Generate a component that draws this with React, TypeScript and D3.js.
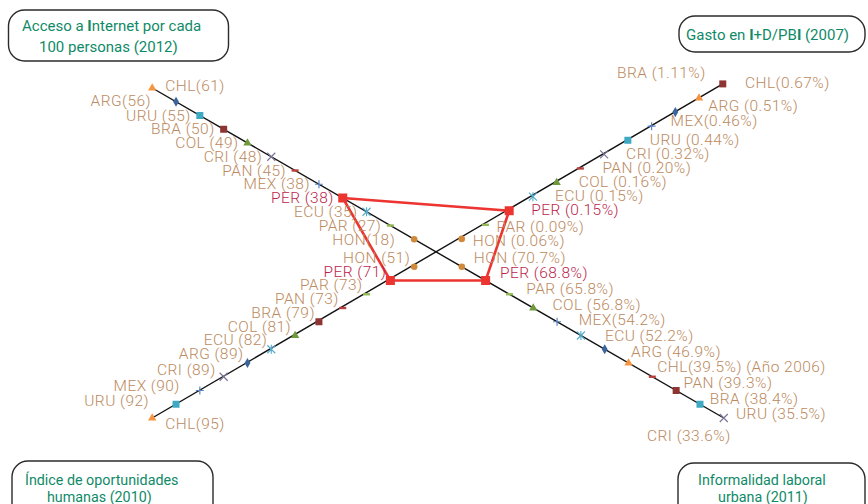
import React from "react";
import * as d3 from "d3";

// ---------- data (rank order, from axis end toward centre) ----------
const internetCountries = ["CHL", "ARG", "URU", "BRA", "COL", "CRI", "PAN", "MEX", "PER", "ECU", "PAR", "HON"];
const internetValues = [61, 56, 55, 50, 49, 48, 45, 38, 38, 35, 27, 18];
const internetLabels = ["CHL(61)", "ARG(56)", "URU (55)", "BRA (50)", "COL (49)", "CRI (48)", "PAN (45)", "MEX (38)", "PER (38)", "ECU (35)", "PAR (27)", "HON(18)"];

const iohCountries = ["CHL", "URU", "MEX", "CRI", "ARG", "ECU", "COL", "BRA", "PAN", "PAR", "PER", "HON"];
const iohValues = [95, 92, 90, 89, 89, 82, 81, 79, 73, 73, 71, 51];
const iohLabels = ["CHL(95)", "URU (92)", "MEX (90)", "CRI (89)", "ARG (89)", "ECU (82)", "COL (81)", "BRA (79)", "PAN (73)", "PAR (73)", "PER (71)", "HON (51)"];

const idCountries = ["BRA", "CHL", "ARG", "MEX", "URU", "CRI", "PAN", "COL", "ECU", "PER", "PAR", "HON"];
const idValues = [1.11, 0.67, 0.51, 0.46, 0.44, 0.32, 0.2, 0.16, 0.15, 0.15, 0.09, 0.06];
const idLabels = ["BRA (1.11%)", "CHL(0.67%)", "ARG (0.51%)", "MEX(0.46%)", "URU (0.44%)", "CRI (0.32%)", "PAN (0.20%)", "COL (0.16%)", "ECU (0.15%)", "PER (0.15%)", "PAR (0.09%)", "HON (0.06%)"];

const informalCountries = ["CRI", "URU", "BRA", "PAN", "CHL", "ARG", "ECU", "MEX", "COL", "PAR", "PER", "HON"];
const informalValues = [33.6, 35.5, 38.4, 39.3, 39.5, 46.9, 52.2, 54.2, 56.8, 65.8, 68.8, 70.7];
const informalLabels = ["CRI (33.6%)", "URU (35.5%)", "BRA (38.4%)", "PAN (39.3%)", "CHL(39.5%) (Año 2006)", "ARG (46.9%)", "ECU (52.2%)", "MEX(54.2%)", "COL (56.8%)", "PAR (65.8%)", "PER (68.8%)", "HON (70.7%)"];

// ---------- styles ----------
const W = 868;
const H = 504;
const CX = 438;
const CY = 253;
const LABEL = "#BC8A60";
const PERC = "#BC1F4B";
const TITLE = "#0F8A68";
const RED = "#EC3431";
const FONT = "Roboto, 'Noto Sans', sans-serif";

type Shape = { kind: string; color: string };
const markers: Record<string, Shape> = {
  ARG: { kind: "diamond", color: "#3A659C" },
  BRA: { kind: "square", color: "#8E3533" },
  CHL: { kind: "triangle", color: "#F7943F" },
  COL: { kind: "triangle", color: "#6F9A3C" },
  CRI: { kind: "x", color: "#7D7399" },
  ECU: { kind: "asterisk", color: "#54AACB" },
  HON: { kind: "circle", color: "#D08A3C" },
  MEX: { kind: "plus", color: "#5A86C2" },
  PAN: { kind: "dash", color: "#B8403C" },
  PAR: { kind: "dash", color: "#93BB55" },
  PER: { kind: "bigsquare", color: RED },
  URU: { kind: "square", color: "#3FA9C4" },
};

function Marker({ x, y, c }: { x: number; y: number; c: string }) {
  const m = markers[c];
  const col = m.color;
  switch (m.kind) {
    case "square":
      return <rect x={x - 3.5} y={y - 3.5} width={7} height={7} fill={col} />;
    case "bigsquare":
      return <rect x={x - 4.5} y={y - 4.5} width={9} height={9} fill={col} />;
    case "diamond":
      return <path d={d3.symbol(d3.symbolDiamond, 30)()!} transform={`translate(${x},${y})`} fill={col} />;
    case "triangle":
      return <path d={d3.symbol(d3.symbolTriangle, 30)()!} transform={`translate(${x},${y})`} fill={col} />;
    case "circle":
      return <circle cx={x} cy={y} r={3.3} fill={col} />;
    case "x":
      return (
        <path d={`M${x - 4},${y - 4}L${x + 4},${y + 4}M${x - 4},${y + 4}L${x + 4},${y - 4}`} stroke={col} strokeWidth={1.2} />
      );
    case "plus":
      return <path d={`M${x - 4},${y}L${x + 4},${y}M${x},${y - 4}L${x},${y + 4}`} stroke={col} strokeWidth={1.2} />;
    case "asterisk":
      return (
        <path
          d={`M${x - 4},${y - 4}L${x + 4},${y + 4}M${x - 4},${y + 4}L${x + 4},${y - 4}M${x},${y - 4.5}L${x},${y + 4.5}`}
          stroke={col}
          strokeWidth={1.1}
        />
      );
    case "dash":
      return <rect x={x - 3.5} y={y - 1.2} width={7} height={2.4} fill={col} />;
    default:
      return null;
  }
}

type LabelPos = { dx: number; dy: number; anchor: string };
type Axis = {
  key: string;
  countries: string[];
  values: number[];
  labels: string[];
  angle: number;
  step: number;
  labelPos: (i: number) => LabelPos;
};

const axes: Axis[] = [
  {
    key: "internet",
    countries: internetCountries,
    values: internetValues,
    labels: internetLabels,
    angle: 150,
    step: 27.5,
    labelPos: (i) => {
      if (i === 0) return { dx: 13, dy: 3, anchor: "start" };
      if (i === 1) return { dx: -25, dy: 4, anchor: "end" };
      if (i === 11) return { dx: -19, dy: 6, anchor: "end" };
      return { dx: -9, dy: 5, anchor: "end" };
    },
  },
  {
    key: "ioh",
    countries: iohCountries,
    values: iohValues,
    labels: iohLabels,
    angle: 210,
    step: 27.5,
    labelPos: (i) => {
      if (i === 0) return { dx: 13, dy: 11, anchor: "start" };
      if (i === 1) return { dx: -27, dy: 2, anchor: "end" };
      if (i === 2) return { dx: -20, dy: 0, anchor: "end" };
      if (i === 3) return { dx: -8, dy: -2, anchor: "end" };
      return { dx: -4, dy: -4, anchor: "end" };
    },
  },
  {
    key: "id",
    countries: idCountries,
    values: idValues,
    labels: idLabels,
    angle: 30.7,
    step: 27.6,
    labelPos: (i) => {
      if (i === 0) return { dx: -17, dy: -6, anchor: "end" };
      if (i === 1) return { dx: 46, dy: -10, anchor: "start" };
      if (i === 2) return { dx: 33, dy: -1, anchor: "start" };
      if (i === 3) return { dx: 19, dy: 0, anchor: "start" };
      if (i >= 10) return { dx: 11, dy: 7, anchor: "start" };
      return { dx: 22, dy: 4.5, anchor: "start" };
    },
  },
  {
    key: "informal",
    countries: informalCountries,
    values: informalValues,
    labels: informalLabels,
    angle: -30,
    step: 27.5,
    labelPos: (i) => {
      if (i === 0) return { dx: 7, dy: 23, anchor: "end" };
      const k = 11 - i;
      return { dx: 12 + 2.4 * k, dy: -4 + 1.9 * k, anchor: "start" };
    },
  },
];

function positions(a: Axis) {
  const dist = d3.scaleLinear().domain([0, a.countries.length - 1]).range([12 * a.step, 1 * a.step]);
  const rad = (a.angle * Math.PI) / 180;
  return a.countries.map((c, i) => ({
    c,
    v: a.values[i],
    x: CX + Math.cos(rad) * dist(i),
    y: CY - Math.sin(rad) * dist(i),
  }));
}

function Box({
  x,
  y,
  w,
  h,
  size,
  lines,
}: {
  x: number;
  y: number;
  w: number;
  h: number;
  size: number;
  lines: { x: number; y: number; t: React.ReactNode }[];
}) {
  return (
    <g>
      <rect x={x} y={y} width={w} height={h} rx={16} ry={16} fill="white" stroke="#2b2b2b" strokeWidth={1.4} />
      {lines.map((l, i) => (
        <text key={i} x={l.x} y={l.y} fill={TITLE} fontSize={size} fontFamily={FONT}>
          {l.t}
        </text>
      ))}
    </g>
  );
}

export default function App() {
  const pts = axes.map(positions);
  const [tl, bl, tr, br] = pts;
  const per = (p: { c: string; x: number; y: number }[]) => p.find((d) => d.c === "PER")!;
  const poly = [per(tl), per(tr), per(br), per(bl)];
  const line = d3.line<{ x: number; y: number }>().x((d) => d.x).y((d) => d.y);

  return (
    <svg width={W} height={H} style={{ position: "absolute", left: 0, top: 0, background: "white" }} fontFamily={FONT}>
      {/* axis lines */}
      <path d={line([tl[0], br[0]])!} stroke="#111" strokeWidth={1.4} fill="none" />
      <path d={line([bl[0], tr[0]])!} stroke="#111" strokeWidth={1.4} fill="none" />

      {/* Peru polygon */}
      <path d={line.curve(d3.curveLinearClosed)(poly)!} stroke={RED} strokeWidth={2.6} fill="none" strokeLinejoin="miter" />

      {/* markers */}
      {pts.map((p, ai) => (
        <g key={ai}>
          {p.map((d) => (
            <Marker key={d.c} x={d.x} y={d.y} c={d.c} />
          ))}
        </g>
      ))}

      {/* labels */}
      {axes.map((a, ai) => (
        <g key={a.key}>
          {pts[ai].map((d, i) => {
            const lp = a.labelPos(i);
            return (
              <text
                key={d.c}
                x={d.x + lp.dx}
                y={d.y + lp.dy}
                textAnchor={lp.anchor}
                fontSize={15.5}
                fontWeight={300}
                letterSpacing={0.45}
                fill={d.c === "PER" ? PERC : LABEL}
              >
                {a.labels[i]}
              </text>
            );
          })}
        </g>
      ))}

      {/* title boxes */}
      <Box
        x={8.5}
        y={10}
        w={220}
        h={51}
        size={15}
        lines={[
          { x: 22, y: 31, t: <>Acceso a <tspan fontWeight="bold">I</tspan>nternet por cada</> },
          { x: 39, y: 52, t: "100 personas (2012)" },
        ]}
      />
      <Box
        x={679}
        y={16}
        w={186}
        h={36}
        size={15}
        lines={[{ x: 686, y: 40, t: <>Gasto en <tspan fontWeight="bold">I</tspan>+D/PB<tspan fontWeight="bold">I</tspan> (2007)</> }]}
      />
      <Box
        x={12}
        y={461}
        w={201}
        h={60}
        size={14.3}
        lines={[
          { x: 25, y: 485, t: "Índice de oportunidades" },
          { x: 47, y: 502, t: "humanas (2010)" },
        ]}
      />
      <Box
        x={678}
        y={463}
        w={187}
        h={60}
        size={14.3}
        lines={[
          { x: 698, y: 485, t: "Informalidad laboral" },
          { x: 718, y: 502, t: "urbana (2011)" },
        ]}
      />
    </svg>
  );
}
